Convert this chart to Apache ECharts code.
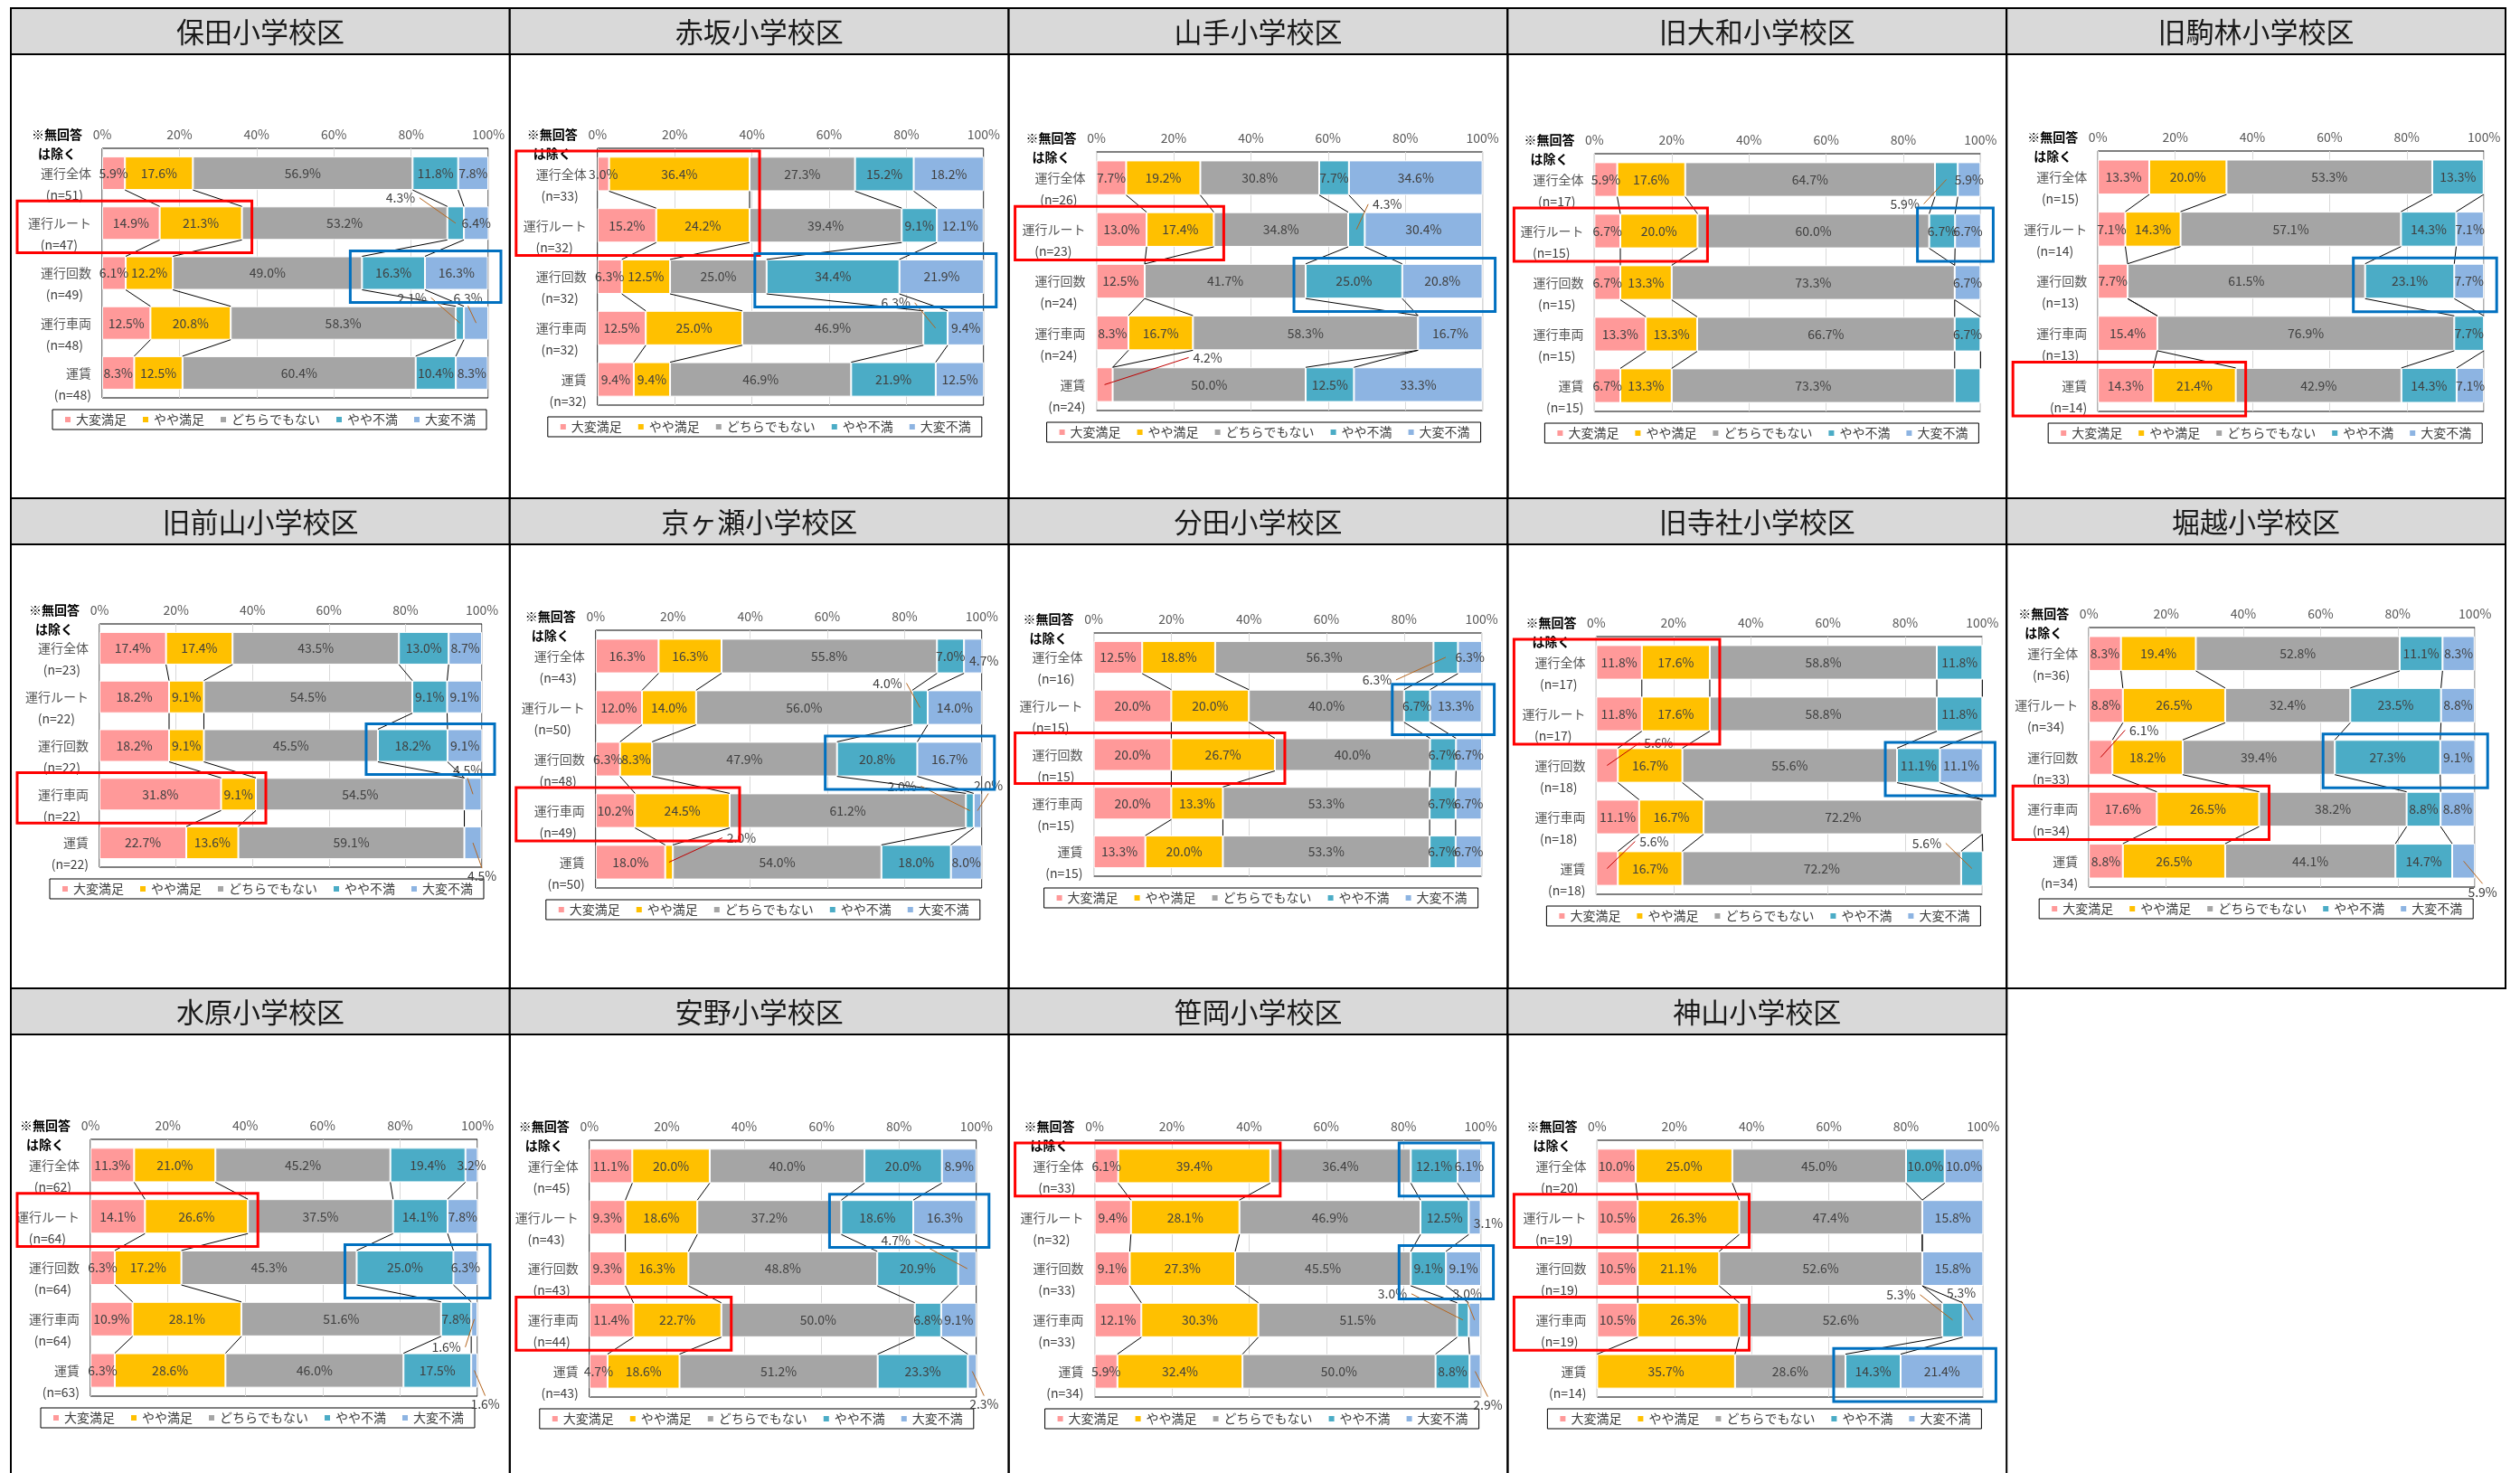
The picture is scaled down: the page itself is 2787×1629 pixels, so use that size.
<!DOCTYPE html>
<html><head><meta charset="utf-8">
<script src="https://cdn.jsdelivr.net/npm/echarts@6/dist/echarts.min.js"></script>
<style>html,body{margin:0;padding:0;background:#fff}#c{width:2787px;height:1629px}</style>
</head><body><div id="c"></div>
<script>
// ---------- data ----------
const seriesNames = ['大変満足', 'やや満足', 'どちらでもない', 'やや不満', '大変不満'];
const categoryNames = ['運行全体', '運行ルート', '運行回数', '運行車両', '運賃'];
const areaNames = ['保田小学校区', '赤坂小学校区', '山手小学校区', '旧大和小学校区', '旧駒林小学校区',
  '旧前山小学校区', '京ヶ瀬小学校区', '分田小学校区', '旧寺社小学校区', '堀越小学校区',
  '水原小学校区', '安野小学校区', '笹岡小学校区', '神山小学校区'];
const tickLabels = ['0%', '20%', '40%', '60%', '80%', '100%'];
const sampleSizes = [
  [51, 47, 49, 48, 48], [33, 32, 32, 32, 32], [26, 23, 24, 24, 24], [17, 15, 15, 15, 15], [15, 14, 13, 13, 14],
  [23, 22, 22, 22, 22], [43, 50, 48, 49, 50], [16, 15, 15, 15, 15], [17, 17, 18, 18, 18], [36, 34, 33, 34, 34],
  [62, 64, 64, 64, 63], [45, 43, 43, 44, 43], [33, 32, 33, 33, 34], [20, 19, 19, 19, 14]];
// each row: 大変満足, やや満足, どちらでもない, やや不満, 大変不満 (%)
const hoda     = [[5.9,17.6,56.9,11.8,7.8],[14.9,21.3,53.2,4.3,6.4],[6.1,12.2,49.0,16.3,16.3],[12.5,20.8,58.3,2.1,6.3],[8.3,12.5,60.4,10.4,8.3]];
const akasaka  = [[3.0,36.4,27.3,15.2,18.2],[15.2,24.2,39.4,9.1,12.1],[6.3,12.5,25.0,34.4,21.9],[12.5,25.0,46.9,6.3,9.4],[9.4,9.4,46.9,21.9,12.5]];
const yamate   = [[7.7,19.2,30.8,7.7,34.6],[13.0,17.4,34.8,4.3,30.4],[12.5,0,41.7,25.0,20.8],[8.3,16.7,58.3,0,16.7],[4.2,0,50.0,12.5,33.3]];
const kyuYamato= [[5.9,17.6,64.7,5.9,5.9],[6.7,20.0,60.0,6.7,6.7],[6.7,13.3,73.3,0,6.7],[13.3,13.3,66.7,6.7,0],[6.7,13.3,73.3,6.7,0]];
const kyuKomabayashi = [[13.3,20.0,53.3,13.3,0],[7.1,14.3,57.1,14.3,7.1],[7.7,0,61.5,23.1,7.7],[15.4,0,76.9,7.7,0],[14.3,21.4,42.9,14.3,7.1]];
const kyuMaeyama = [[17.4,17.4,43.5,13.0,8.7],[18.2,9.1,54.5,9.1,9.1],[18.2,9.1,45.5,18.2,9.1],[31.8,9.1,54.5,0,4.5],[22.7,13.6,59.1,0,4.5]];
const kyougase = [[16.3,16.3,55.8,7.0,4.7],[12.0,14.0,56.0,4.0,14.0],[6.3,8.3,47.9,20.8,16.7],[10.2,24.5,61.2,2.0,2.0],[18.0,2.0,54.0,18.0,8.0]];
const bunden   = [[12.5,18.8,56.3,6.3,6.3],[20.0,20.0,40.0,6.7,13.3],[20.0,26.7,40.0,6.7,6.7],[20.0,13.3,53.3,6.7,6.7],[13.3,20.0,53.3,6.7,6.7]];
const kyuJisha = [[11.8,17.6,58.8,11.8,0],[11.8,17.6,58.8,11.8,0],[5.6,16.7,55.6,11.1,11.1],[11.1,16.7,72.2,0,0],[5.6,16.7,72.2,5.6,0]];
const horikoshi= [[8.3,19.4,52.8,11.1,8.3],[8.8,26.5,32.4,23.5,8.8],[6.1,18.2,39.4,27.3,9.1],[17.6,26.5,38.2,8.8,8.8],[8.8,26.5,44.1,14.7,5.9]];
const suibara  = [[11.3,21.0,45.2,19.4,3.2],[14.1,26.6,37.5,14.1,7.8],[6.3,17.2,45.3,25.0,6.3],[10.9,28.1,51.6,7.8,1.6],[6.3,28.6,46.0,17.5,1.6]];
const yasuno   = [[11.1,20.0,40.0,20.0,8.9],[9.3,18.6,37.2,18.6,16.3],[9.3,16.3,48.8,20.9,4.7],[11.4,22.7,50.0,6.8,9.1],[4.7,18.6,51.2,23.3,2.3]];
const sasaoka  = [[6.1,39.4,36.4,12.1,6.1],[9.4,28.1,46.9,12.5,3.1],[9.1,27.3,45.5,9.1,9.1],[12.1,30.3,51.5,3.0,3.0],[5.9,32.4,50.0,8.8,2.9]];
const kamiyama = [[10.0,25.0,45.0,10.0,10.0],[10.5,26.3,47.4,0,15.8],[10.5,21.1,52.6,0,15.8],[10.5,26.3,52.6,5.3,5.3],[0,35.7,28.6,14.3,21.4]];
const areaValues = [hoda, akasaka, yamate, kyuYamato, kyuKomabayashi, kyuMaeyama, kyougase, bunden, kyuJisha, horikoshi, suibara, yasuno, sasaoka, kamiyama];

// ---------- annotations / layout (not data) ----------
// [panel, category, series, dx, dy, leaderLine]
const callouts = [
  [0,1,3,-61,-28,1],[0,3,3,-53,-28,1],[0,3,4,-9,-28,1],
  [1,3,3,-44,-28,1],
  [2,1,3,34,-28,1],[2,4,0,114,-30,1],
  [3,0,3,-46,27,1],
  [5,3,4,-6,-27,1],[5,4,4,10,37,1],
  [6,0,4,12,5,0],[6,1,3,-36,-27,1],[6,3,3,-75,-27,1],[6,3,4,12,-28,1],[6,4,1,80,-27,1],
  [7,0,3,-76,25,1],
  [8,2,0,57,-25,1],[8,4,0,52,-30,1],[8,4,3,-50,-28,1],
  [9,2,0,48,-30,1],[9,4,4,21,34,1],
  [10,3,4,-31,31,1],[10,4,4,12,37,1],
  [11,2,4,-79,-31,1],[11,4,4,13,36,1],
  [12,1,4,15,6,0],[12,3,3,-78,-29,1],[12,3,4,-8,-29,1],[12,4,4,14,37,1],
  [13,3,3,-57,-28,1],[13,3,4,-13,-30,1]
];
const hiddenLabels = [[3,4,3]];
// [panel, type(0 red,1 blue), firstCat, lastCat]
const highlights = [
  [0,0,1,1],[0,1,2,2],[1,0,0,1],[1,1,2,2],[2,0,1,1],[2,1,2,2],[3,0,1,1],[3,1,1,1],
  [4,1,2,2],[4,0,4,4],[5,0,3,3],[5,1,2,2],[6,0,3,3],[6,1,2,2],[7,0,2,2],[7,1,1,1],
  [8,0,0,1],[8,1,2,2],[9,0,3,3],[9,1,2,2],[10,0,1,1],[10,1,2,2],[11,0,3,3],[11,1,1,1],
  [12,0,0,0],[12,1,0,0],[12,1,2,2],[13,0,1,1],[13,0,3,3],[13,1,4,4]
];
const colors = ['#FF9999', '#FFC000', '#A5A5A5', '#4BACC6', '#8DB4E2'];
const PANEL_W = 551.8, PANEL_H = 542, TITLE_H = 51;
// plot rect offsets inside each panel: [left, right, top, bottom]
const plotBox = [[101,528,155,431],[97,524,155,439],[97,524,159,445],[96,523,161,446],[101,528,158,446],
  [98,521,139,408],[95,522,146,431],[94,523,149,418],[98,525,153,438],[91,518,143,430],
  [88,516,167,451],[88,516,168,452],[95,522,168,452],[99,526,168,452]];
const FONT = '"Noto Sans CJK JP", "Noto Sans", sans-serif';
const origin = i => [12 + (i % 5) * PANEL_W, 9 + Math.floor(i / 5) * PANEL_H];

const chart = echarts.init(document.getElementById('c'), null, {renderer: 'canvas'});
const grids = [], xAxes = [], yAxes = [], series = [], legends = [], graphics = [];

areaNames.forEach((name, p) => {
  const [x0, y0] = origin(p);
  const [L, R, T, B] = plotBox[p];
  grids.push({left: x0 + L, top: y0 + T, width: R - L, height: B - T, show: true,
    borderColor: '#000', borderWidth: 1, backgroundColor: 'transparent'});
  xAxes.push({type: 'value', gridIndex: p, min: 0, max: 100, interval: 20, position: 'top',
    axisLine: {show: false}, axisTick: {show: false},
    axisLabel: {formatter: v => tickLabels[Math.round(v / 20)], color: '#595959', fontSize: 14, fontFamily: FONT, margin: 8},
    splitLine: {show: true, lineStyle: {color: '#d9d9d9', width: 1}}});
  yAxes.push({type: 'category', gridIndex: p, inverse: true,
    data: categoryNames.map((c, k) => c + '|' + sampleSizes[p][k]),
    axisLine: {show: false}, axisTick: {show: false},
    axisLabel: {interval: 0, margin: 12, align: 'right', verticalAlign: 'middle', fontFamily: FONT,
      formatter: v => {
        const [c, n] = v.split('|');
        const st = c.length >= 5 ? 'b5' : (c.length === 4 ? 'b4' : 'b2');
        return '{e|\u3000}\n{a|' + c + '}\n{' + st + '|(n=' + n + ')}';
      },
      rich: {
        e: {fontSize: 14, lineHeight: 24},
        a: {fontSize: 14, lineHeight: 24, color: '#595959', fontFamily: FONT},
        b2: {fontSize: 14, lineHeight: 24, color: '#404040', fontFamily: FONT},
        b4: {fontSize: 14, lineHeight: 24, color: '#404040', fontFamily: FONT, padding: [0, 9, 0, 0]},
        b5: {fontSize: 14, lineHeight: 24, color: '#404040', fontFamily: FONT, padding: [0, 15, 0, 0]}
      }}});
  const vals = areaValues[p];
  const isCallout = (c, s) => callouts.some(o => o[0] === p && o[1] === c && o[2] === s);
  const isHidden = (c, s) => hiddenLabels.some(o => o[0] === p && o[1] === c && o[2] === s);
  seriesNames.forEach((sn, s) => {
    series.push({type: 'bar', name: sn, xAxisIndex: p, yAxisIndex: p, stack: 'p' + p,
      barCategoryGap: '33%', itemStyle: {color: colors[s], borderColor: '#fff', borderWidth: 1},
      label: {show: true, position: 'inside', color: '#404040', fontSize: 14, fontFamily: FONT,
        formatter: d => d.value.toFixed(1) + '%'},
      emphasis: {disabled: true},
      data: vals.map((row, c) => ({value: row[s],
        label: {show: row[s] > 0 && !isCallout(c, s) && !isHidden(c, s)}}))});
  });
  // Excel-style series lines between adjacent bars
  series.push({type: 'custom', xAxisIndex: p, yAxisIndex: p, clip: false, z: 3, silent: true,
    encode: {x: 0, y: 1}, data: [[0, 0], [0, 1], [0, 2], [0, 3]],
    renderItem: (params, api) => {
      const c = api.value(1);
      const half = api.size([0, 1])[1] * 0.67 / 2;
      const children = [];
      let a = 0, b = 0;
      for (let k = 0; k < 4; k++) {
        a += vals[c][k]; b += vals[c + 1][k];
        const p1 = api.coord([a, c]), p2 = api.coord([b, c + 1]);
        children.push({type: 'line', shape: {x1: p1[0], y1: p1[1] + half, x2: p2[0], y2: p2[1] - half},
          style: {stroke: '#000', lineWidth: 1}});
      }
      return {type: 'group', children};
    }});
  // callout labels for narrow segments
  const myCallouts = callouts.filter(o => o[0] === p).map(o => [0, o[1], o[2], o[3], o[4], o[5]]);
  if (myCallouts.length) series.push({type: 'custom', xAxisIndex: p, yAxisIndex: p, clip: false, z: 6, silent: true,
    encode: {x: 0, y: 1}, data: myCallouts,
    renderItem: (params, api) => {
      const c = api.value(1), s = api.value(2), dx = api.value(3), dy = api.value(4), ln = api.value(5);
      const row = vals[c];
      let cum = 0; for (let k = 0; k < s; k++) cum += row[k];
      const ctr = api.coord([cum + row[s] / 2, c]);
      const lx = ctr[0] + dx, ly = ctr[1] + dy;
      const children = [{type: 'text', style: {text: row[s].toFixed(1) + '%', x: lx, y: ly, align: 'center',
        verticalAlign: 'middle', fill: '#404040', fontSize: 14, fontFamily: FONT}}];
      if (ln) {
        let sx, sy;
        if (Math.abs(dx) > 22) { sx = lx - Math.sign(dx) * 21; sy = ly; }
        else { sx = lx; sy = ly - Math.sign(dy) * 9; }
        const stroke = s <= 1 ? '#C00000' : '#B5651D';
        children.push({type: 'polyline', shape: {points: [[sx, sy], [sx - Math.sign(dx || 1) * 0, sy], [ctr[0], ctr[1]]]},
          style: {stroke, lineWidth: 1, fill: 'none'}});
      }
      return {type: 'group', children};
    }});
  // highlight frames
  const myBoxes = highlights.filter(o => o[0] === p).map(o => [0, o[2], o[3], o[1]]);
  if (myBoxes.length) series.push({type: 'custom', xAxisIndex: p, yAxisIndex: p, clip: false, z: 8, silent: true,
    encode: {x: 0, y: 1}, data: myBoxes,
    renderItem: (params, api) => {
      const c0 = api.value(1), c1 = api.value(2), t = api.value(3);
      const band = api.size([0, 1])[1];
      const top = api.coord([0, c0])[1] - band / 2 + 3;
      const bot = api.coord([0, c1])[1] + band / 2 + 5;
      let x1, x2;
      if (t === 0) {
        let m = 0; for (let c = c0; c <= c1; c++) m = Math.max(m, vals[c][0] + vals[c][1]);
        x1 = x0 + 7; x2 = api.coord([m, c0])[0] + 11;
      } else {
        let m = 100; for (let c = c0; c <= c1; c++) m = Math.min(m, vals[c][0] + vals[c][1] + vals[c][2]);
        x1 = api.coord([m, c0])[0] - 13; x2 = api.coord([100, c0])[0] + 14;
      }
      return {type: 'rect', shape: {x: x1, y: top, width: x2 - x1, height: bot - top},
        style: {fill: 'none', stroke: t === 0 ? '#FF0000' : '#0070C0', lineWidth: 3}};
    }});
  legends.push({data: seriesNames, left: x0 + L - 55, top: y0 + B + 13, orient: 'horizontal',
    icon: 'rect', itemWidth: 8, itemHeight: 8, itemGap: 16, selectedMode: false,
    borderColor: '#000', borderWidth: 1, padding: [4, 12],
    textStyle: {fontSize: 14, color: '#404040', fontFamily: FONT}});
  // frames and titles
  graphics.push({type: 'rect', shape: {x: x0, y: y0, width: PANEL_W, height: PANEL_H}, silent: true,
    style: {fill: 'none', stroke: '#000', lineWidth: 2}, z: 0});
  graphics.push({type: 'rect', shape: {x: x0, y: y0, width: PANEL_W, height: TITLE_H}, silent: true,
    style: {fill: '#D9D9D9', stroke: '#000', lineWidth: 2}, z: 0});
  graphics.push({type: 'text', x: x0 + PANEL_W / 2, y: y0 + TITLE_H / 2 + 1, silent: true,
    style: {text: name, align: 'center', verticalAlign: 'middle', fill: '#1a1a1a', fontSize: 31, fontFamily: FONT}});
  graphics.push({type: 'text', x: x0 + L - 50, y: y0 + T - 5, silent: true,
    style: {text: '※無回答\nは除く', align: 'center', verticalAlign: 'middle', lineHeight: 21,
      fill: '#000', fontSize: 14, fontWeight: 'bold', fontFamily: FONT}});
});

chart.setOption({
  animation: false,
  backgroundColor: '#fff',
  grid: grids, xAxis: xAxes, yAxis: yAxes, legend: legends, series: series, graphic: graphics
});
</script></body></html>
